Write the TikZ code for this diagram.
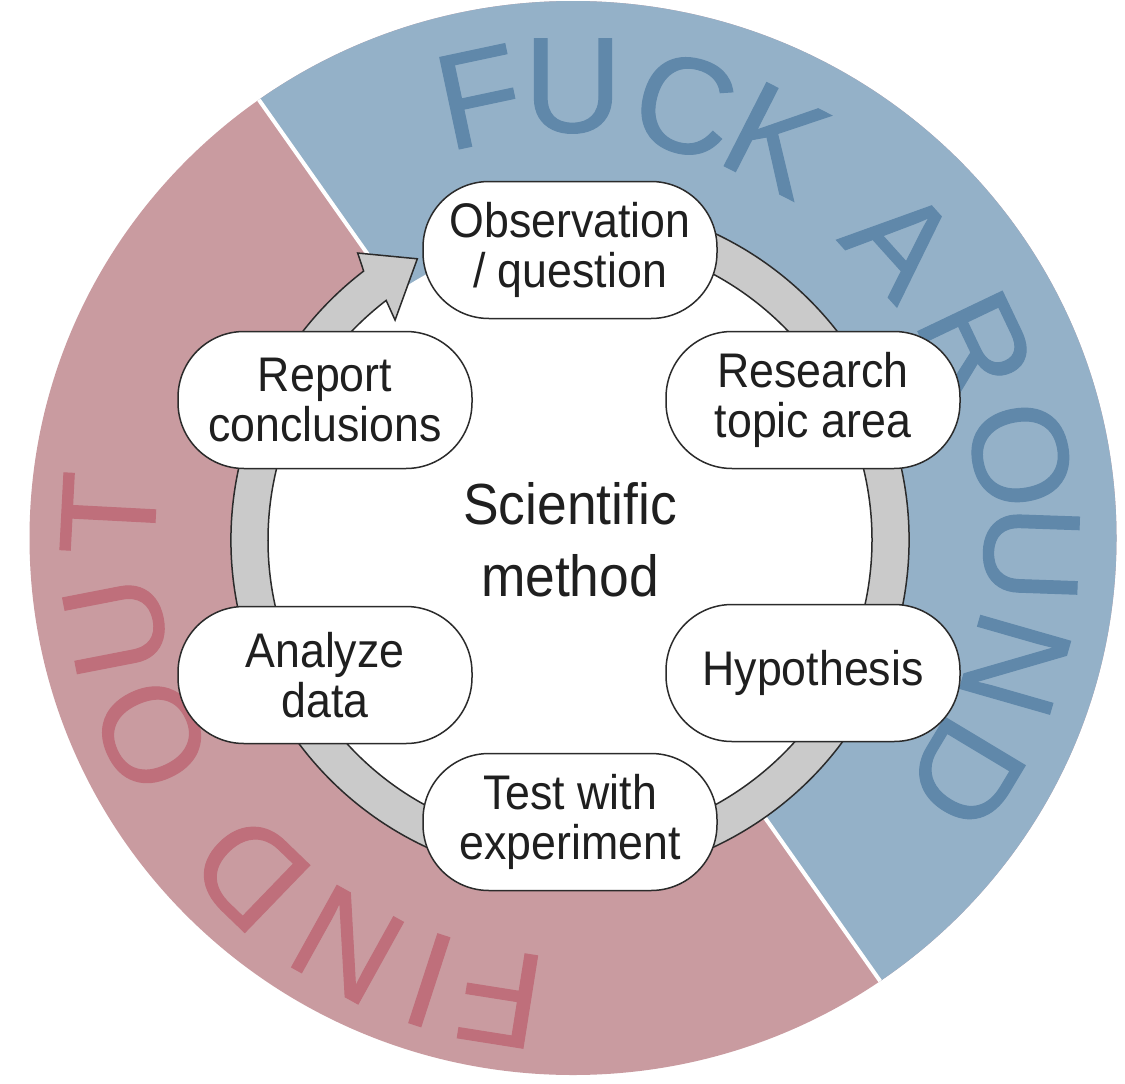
\documentclass[tikz,border=0pt]{standalone}
\usepackage{fontspec}
\setmainfont{Liberation Sans}
\newfontfamily\nodefont{Liberation Sans}[FakeStretch=0.92]
\newfontfamily\bigfont{Liberation Sans}[FakeBold=0.8]
\definecolor{bluebg}{RGB}{148,177,200}
\definecolor{redbg}{RGB}{201,155,160}
\definecolor{bluetxt}{RGB}{96,136,170}
\definecolor{redtxt}{RGB}{191,111,123}
\definecolor{ringgray}{RGB}{202,202,202}
\definecolor{linecol}{RGB}{43,43,43}
\begin{document}
\begin{tikzpicture}[x=1pt,y=-1pt,
  stage/.style={draw=linecol, line width=1.5pt, fill=white, rounded corners=66pt,
    minimum width=294pt, minimum height=137pt, inner sep=0pt, align=center,
    text=black!88, font=\nodefont\fontsize{48.6}{50}\selectfont},
  bigblue/.style={text=bluetxt, inner sep=0pt, font=\bigfont\fontsize{136}{136}\selectfont},
  bigred/.style={text=redtxt, inner sep=0pt, font=\bigfont\fontsize{136}{136}\selectfont}]
\useasboundingbox (0,0) rectangle (1125,1084);
\fill[white] (0,0) rectangle (1125,1084);
% background disc split in two halves
\begin{scope}
  \clip (573,538) ellipse [x radius=543.5pt, y radius=537pt];
  \fill[redbg] (0,0) rectangle (1125,1084);
  \fill[bluebg] (130,-83) -- (1007,1161) -- (1300,1161) -- (1300,-83) -- cycle;
  \draw[white, line width=4pt] (130,-83) -- (1007,1161);
\end{scope}
% curved lettering
\begin{scope}[shift={(573,538)}, y=1pt]
  \foreach \a/\r/\l [count=\i] in {102/451/F,90/452/U,75.5/447/C,63/447/K,42/442/A,25.5/447/R,10.5/455/O,-2/458/U,-16/460/N,-31/458/D}
    \node[bigblue, rotate=\a-90] (fa\i) at (\a:\r pt) {\l};
  \foreach \a/\l [count=\i] in {261/F,252/I,241/N,226/D,205/O,191/U,177/T}
    \node[bigred, rotate=\a-90] (fo\i) at (\a:465pt) {\l};
\end{scope}
% inner disc and circular arrow
\begin{scope}[shift={(570,540)}, y=1pt]
  \fill[white] (0,0) circle[radius=302pt];
  \filldraw[fill=ringgray, draw=linecol, line width=1.5pt, line join=miter]
    (75:339pt) arc[start angle=75, end angle=-232.5, radius=339pt]
    -- (126.5:357pt) -- (118.5:320pt) -- (128.5:281pt) -- (127.5:302pt)
    arc[start angle=127.5, end angle=435, radius=302pt] -- cycle;
\end{scope}
% stages
\node[stage] (obs) at (570,250) {Observation\\/ question};
\node[stage] (res) at (813,400) {Research\\topic area};
\node[stage] (hyp) at (813,673) {Hypothesis};
\node[stage] (test) at (570,822) {Test with\\experiment};
\node[stage] (ana) at (325,675) {Analyze\\data};
\node[stage] (rep) at (325,400) {Report\\conclusions};
\node[align=center, inner sep=0pt, text=black!88, font=\nodefont\fontsize{58}{72}\selectfont] (sci) at (570,540) {Scientific\\method};
\end{tikzpicture}
\end{document}
